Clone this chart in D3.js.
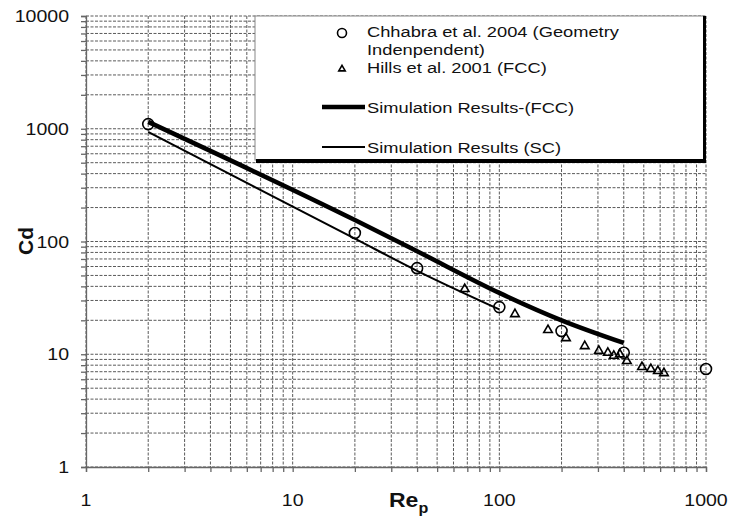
<!DOCTYPE html>
<html><head><meta charset="utf-8">
<script src="https://cdn.jsdelivr.net/npm/d3@7"></script>
<style>body{margin:0;background:#fff}svg{display:block}</style>
</head><body><svg id="c" width="730" height="522"></svg>
<script>
// ---- data ----
const chhabraRe = [2, 20, 40, 100, 200, 400, 1000];
const chhabraCd = [1100, 119, 58, 26.2, 16.1, 10.3, 7.4];
const hillsRe = [68, 119, 172, 210, 259, 303, 335, 358, 383, 414, 490, 541, 585, 626];
const hillsCd = [37.9, 22.7, 16.4, 13.9, 11.8, 10.7, 10.3, 9.7, 10.0, 8.7, 7.7, 7.4, 7.1, 6.8];
const fccRe = [2, 20, 40, 100, 200, 400];
const fccCd = [1150, 155, 82, 35, 20, 12.6];
const scRe = [2, 20, 40, 100];
const scCd = [936, 106, 55, 25];
const xTickValues = [1, 10, 100, 1000];
const xTickLabels = ["1", "10", "100", "1000"];
const yTickValues = [1, 10, 100, 1000, 10000];
const yTickLabels = ["1", "10", "100", "1000", "10000"];
const legendLabels = ["Chhabra et al. 2004 (Geometry", "Indenpendent)", "Hills et al. 2001 (FCC)", "Simulation Results-(FCC)", "Simulation Results (SC)"];

// ---- layout ----
const L = 86, R = 706, T = 16, B = 467;
const SX = 1.15;
const svg = d3.select("#c");
const x = d3.scaleLog().domain([1, 1000]).range([L, R]);
const y = d3.scaleLog().domain([1, 10000]).range([B, T]);
const font = "'Liberation Sans', Arial, sans-serif";

// minor grid values
const xGrid = [], yGrid = [];
for (let d = 0; d < 3; d++) for (let k = 1; k <= 9; k++) xGrid.push(k * Math.pow(10, d));
xGrid.push(1000);
for (let d = 0; d < 4; d++) for (let k = 1; k <= 9; k++) yGrid.push(k * Math.pow(10, d));
yGrid.push(10000);

const g = svg.append("g");
g.selectAll(".vg").data(xGrid).join("line")
  .attr("x1", d => x(d)).attr("x2", d => x(d)).attr("y1", T).attr("y2", B)
  .attr("stroke", "#5a5a5a").attr("stroke-width", 1).attr("stroke-dasharray", "3,1.5");
g.selectAll(".hg").data(yGrid).join("line")
  .attr("y1", d => y(d)).attr("y2", d => y(d)).attr("x1", L).attr("x2", R)
  .attr("stroke", "#5a5a5a").attr("stroke-width", 1).attr("stroke-dasharray", "3,1.5");

// axes
const xAxis = d3.axisBottom(x).tickValues(xGrid).tickSize(5).tickFormat("");
const yAxis = d3.axisLeft(y).tickValues(yGrid).tickSize(5).tickFormat("");
const gx = svg.append("g").attr("transform", `translate(0,${B})`).call(xAxis);
const gy = svg.append("g").attr("transform", `translate(${L},0)`).call(yAxis);
[gx, gy].forEach(a => { a.selectAll("path,line").attr("stroke", "#666").attr("stroke-width", 1.3); });

// tick labels
svg.selectAll(".xl").data(xTickValues).join("text")
  .attr("transform", d => `translate(${x(d)},${B + 39}) scale(${SX},1)`)
  .attr("text-anchor", "middle").attr("font-family", font).attr("font-size", 17).attr("fill", "#111")
  .text((d, i) => xTickLabels[i]);
svg.selectAll(".yl").data(yTickValues).join("text")
  .attr("transform", d => `translate(69,${y(d) + 6}) scale(${SX},1)`)
  .attr("text-anchor", "end").attr("font-family", font).attr("font-size", 17).attr("fill", "#111")
  .text((d, i) => yTickLabels[i]);

// axis titles
const xt = svg.append("text").attr("transform", `translate(389,507) scale(${SX},1)`)
  .attr("font-family", font).attr("font-weight", "bold").attr("font-size", 20).attr("fill", "#111");
xt.append("tspan").text("Re");
xt.append("tspan").attr("font-size", 14).attr("dy", 6).text("p");
svg.append("text").attr("transform", "translate(33,241) rotate(-90)")
  .attr("text-anchor", "middle").attr("font-family", font).attr("font-weight", "bold")
  .attr("font-size", 21).attr("fill", "#111").text("Cd");

// legend box
svg.append("rect").attr("x", 255).attr("y", T).attr("width", 449).attr("height", 144)
  .attr("fill", "#fff").attr("stroke", "#888").attr("stroke-width", 1);
svg.append("line").attr("x1", 256).attr("x2", 706).attr("y1", 161).attr("y2", 161)
  .attr("stroke", "#000").attr("stroke-width", 4);
svg.append("line").attr("x1", 704.5).attr("x2", 704.5).attr("y1", T).attr("y2", 163)
  .attr("stroke", "#000").attr("stroke-width", 3);

// lines
const line = d3.line().x(d => x(d[0])).y(d => y(d[1])).curve(d3.curveMonotoneX);
svg.append("path").datum(fccRe.map((r, i) => [r, fccCd[i]])).attr("d", line)
  .attr("fill", "none").attr("stroke", "#000").attr("stroke-width", 4.5);
svg.append("path").datum(scRe.map((r, i) => [r, scCd[i]])).attr("d", line)
  .attr("fill", "none").attr("stroke", "#000").attr("stroke-width", 2);

// markers
const tri = d3.symbol(d3.symbolTriangle, 32);
svg.selectAll(".tr").data(hillsRe.map((r, i) => [r, hillsCd[i]])).join("path")
  .attr("d", tri).attr("transform", d => `translate(${x(d[0])},${y(d[1])})`)
  .attr("fill", "none").attr("stroke", "#000").attr("stroke-width", 1.6);
svg.selectAll(".ci").data(chhabraRe.map((r, i) => [r, chhabraCd[i]])).join("circle")
  .attr("cx", d => x(d[0])).attr("cy", d => y(d[1])).attr("r", 5.5)
  .attr("fill", "none").attr("stroke", "#000").attr("stroke-width", 1.6);

// legend contents
const lg = svg.append("g").attr("font-family", font).attr("font-size", 15.5).attr("fill", "#111");
lg.append("circle").attr("cx", 342).attr("cy", 33).attr("r", 4.5).attr("fill", "none").attr("stroke", "#000").attr("stroke-width", 1.6);
lg.append("path").attr("d", d3.symbol(d3.symbolTriangle, 18)).attr("transform", "translate(342,69)")
  .attr("fill", "none").attr("stroke", "#000").attr("stroke-width", 1.6);
lg.append("line").attr("x1", 322).attr("x2", 365).attr("y1", 107).attr("y2", 107).attr("stroke", "#000").attr("stroke-width", 4.5);
lg.append("line").attr("x1", 322).attr("x2", 365).attr("y1", 147).attr("y2", 147).attr("stroke", "#000").attr("stroke-width", 2);
const ly = [37, 55, 73, 113, 153];
legendLabels.forEach((t, i) => {
  lg.append("text").attr("transform", `translate(367,${ly[i]}) scale(1.18,1)`).text(t);
});
</script></body></html>
